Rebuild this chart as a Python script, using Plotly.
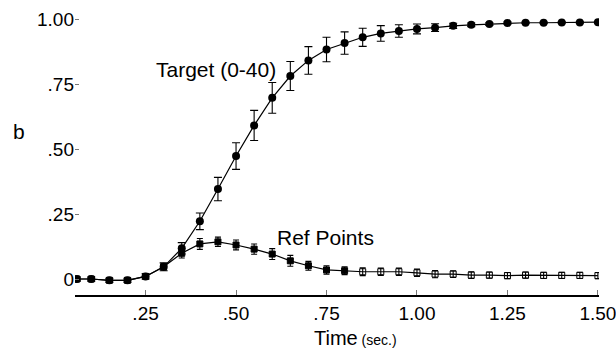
import plotly.graph_objects as go

times = [0.06, 0.10, 0.15, 0.20, 0.25, 0.30, 0.35, 0.40, 0.45, 0.50,
         0.55, 0.60, 0.65, 0.70, 0.75, 0.80, 0.85, 0.90, 0.95, 1.00,
         1.05, 1.10, 1.15, 1.20, 1.25, 1.30, 1.35, 1.40, 1.45, 1.50]

target = [0.0, 0.0, -0.005, -0.005, 0.01, 0.047, 0.118, 0.222, 0.346, 0.473,
          0.591, 0.697, 0.781, 0.841, 0.883, 0.908, 0.930, 0.945, 0.954, 0.962,
          0.967, 0.974, 0.978, 0.981, 0.985, 0.986, 0.986, 0.987, 0.987, 0.988]
target_err = [0.008, 0.008, 0.008, 0.008, 0.010, 0.015, 0.022, 0.032, 0.045, 0.051,
              0.058, 0.059, 0.056, 0.053, 0.047, 0.043, 0.035, 0.030, 0.024, 0.019,
              0.015, 0.010, 0.007, 0.005, 0.004, 0.003, 0.003, 0.003, 0.003, 0.003]

ref = [0.0, 0.0, -0.005, -0.005, 0.01, 0.047, 0.099, 0.135, 0.143, 0.131,
       0.115, 0.096, 0.070, 0.051, 0.035, 0.032, 0.028, 0.028, 0.028, 0.024,
       0.019, 0.019, 0.015, 0.015, 0.013, 0.015, 0.014, 0.014, 0.014, 0.013]
ref_err = [0.008, 0.008, 0.008, 0.008, 0.008, 0.012, 0.018, 0.021, 0.018, 0.019,
           0.020, 0.021, 0.021, 0.017, 0.016, 0.015, 0.015, 0.014, 0.014, 0.014,
           0.014, 0.013, 0.013, 0.012, 0.012, 0.012, 0.012, 0.012, 0.012, 0.012]

y_tick_vals = [0, 0.25, 0.50, 0.75, 1.00]
y_tick_text = ["0", ".25", ".50", ".75", "1.00"]
x_tick_vals = [0.25, 0.50, 0.75, 1.00, 1.25, 1.50]
x_tick_text = [".25", ".50", ".75", "1.00", "1.25", "1.50"]

FONT = "Liberation Sans, Arial, sans-serif"

ref_symbols = ["square" if t < 0.83 else "square-open" for t in times]

fig = go.Figure()
fig.add_trace(go.Scatter(
    x=times, y=ref, mode="lines+markers",
    line=dict(color="black", width=1.2),
    marker=dict(symbol=ref_symbols, size=6, color="black",
                line=dict(color="black", width=1)),
    error_y=dict(type="data", array=ref_err, visible=True,
                 color="black", thickness=1.1, width=3),
    showlegend=False,
))
fig.add_trace(go.Scatter(
    x=times, y=target, mode="lines+markers",
    line=dict(color="black", width=1.2),
    marker=dict(symbol="circle", size=8, color="black"),
    error_y=dict(type="data", array=target_err, visible=True,
                 color="black", thickness=1.1, width=4),
    showlegend=False,
))

fig.add_annotation(x=0.446, y=0.805, xref="x", yref="y", text="Target (0-40)",
                   showarrow=False, font=dict(size=21, color="black", family=FONT))
fig.add_annotation(x=0.747, y=0.16, xref="x", yref="y", text="Ref Points",
                   showarrow=False, font=dict(size=21, color="black", family=FONT))
fig.add_annotation(x=-0.107, y=0.575, xref="paper", yref="paper", text="b",
                   showarrow=False, xanchor="center", yanchor="middle",
                   font=dict(size=21, color="black", family=FONT))
fig.add_annotation(x=0.536, y=-0.151, xref="paper", yref="paper",
                   text="Time<span style='font-size:14px'> (sec.)</span>",
                   showarrow=False, xanchor="center", yanchor="middle",
                   font=dict(size=20, color="black", family=FONT))

fig.update_layout(
    width=616, height=349,
    margin=dict(l=75, r=17, t=10, b=54, autoexpand=False),
    paper_bgcolor="white", plot_bgcolor="white",
    font=dict(family=FONT, color="black", size=19),
    xaxis=dict(range=[0.055, 1.503], tickvals=x_tick_vals, ticktext=x_tick_text,
               showgrid=False, zeroline=False, showline=True, linecolor="black",
               linewidth=1.5, ticks="inside", ticklen=5, tickcolor="#777",
               tickfont=dict(size=19), ticklabeloverflow="allow", automargin=False),
    yaxis=dict(range=[-0.0615, 1.035], tickvals=y_tick_vals, ticktext=y_tick_text,
               showgrid=False, zeroline=False, showline=False,
               ticks="inside", ticklen=4, tickcolor="#777",
               tickfont=dict(size=19), automargin=False),
)

fig.write_html("out.html",
               config={"displayModeBar": False},
               post_script="document.body.style.margin='0';document.body.style.overflow='hidden';")
